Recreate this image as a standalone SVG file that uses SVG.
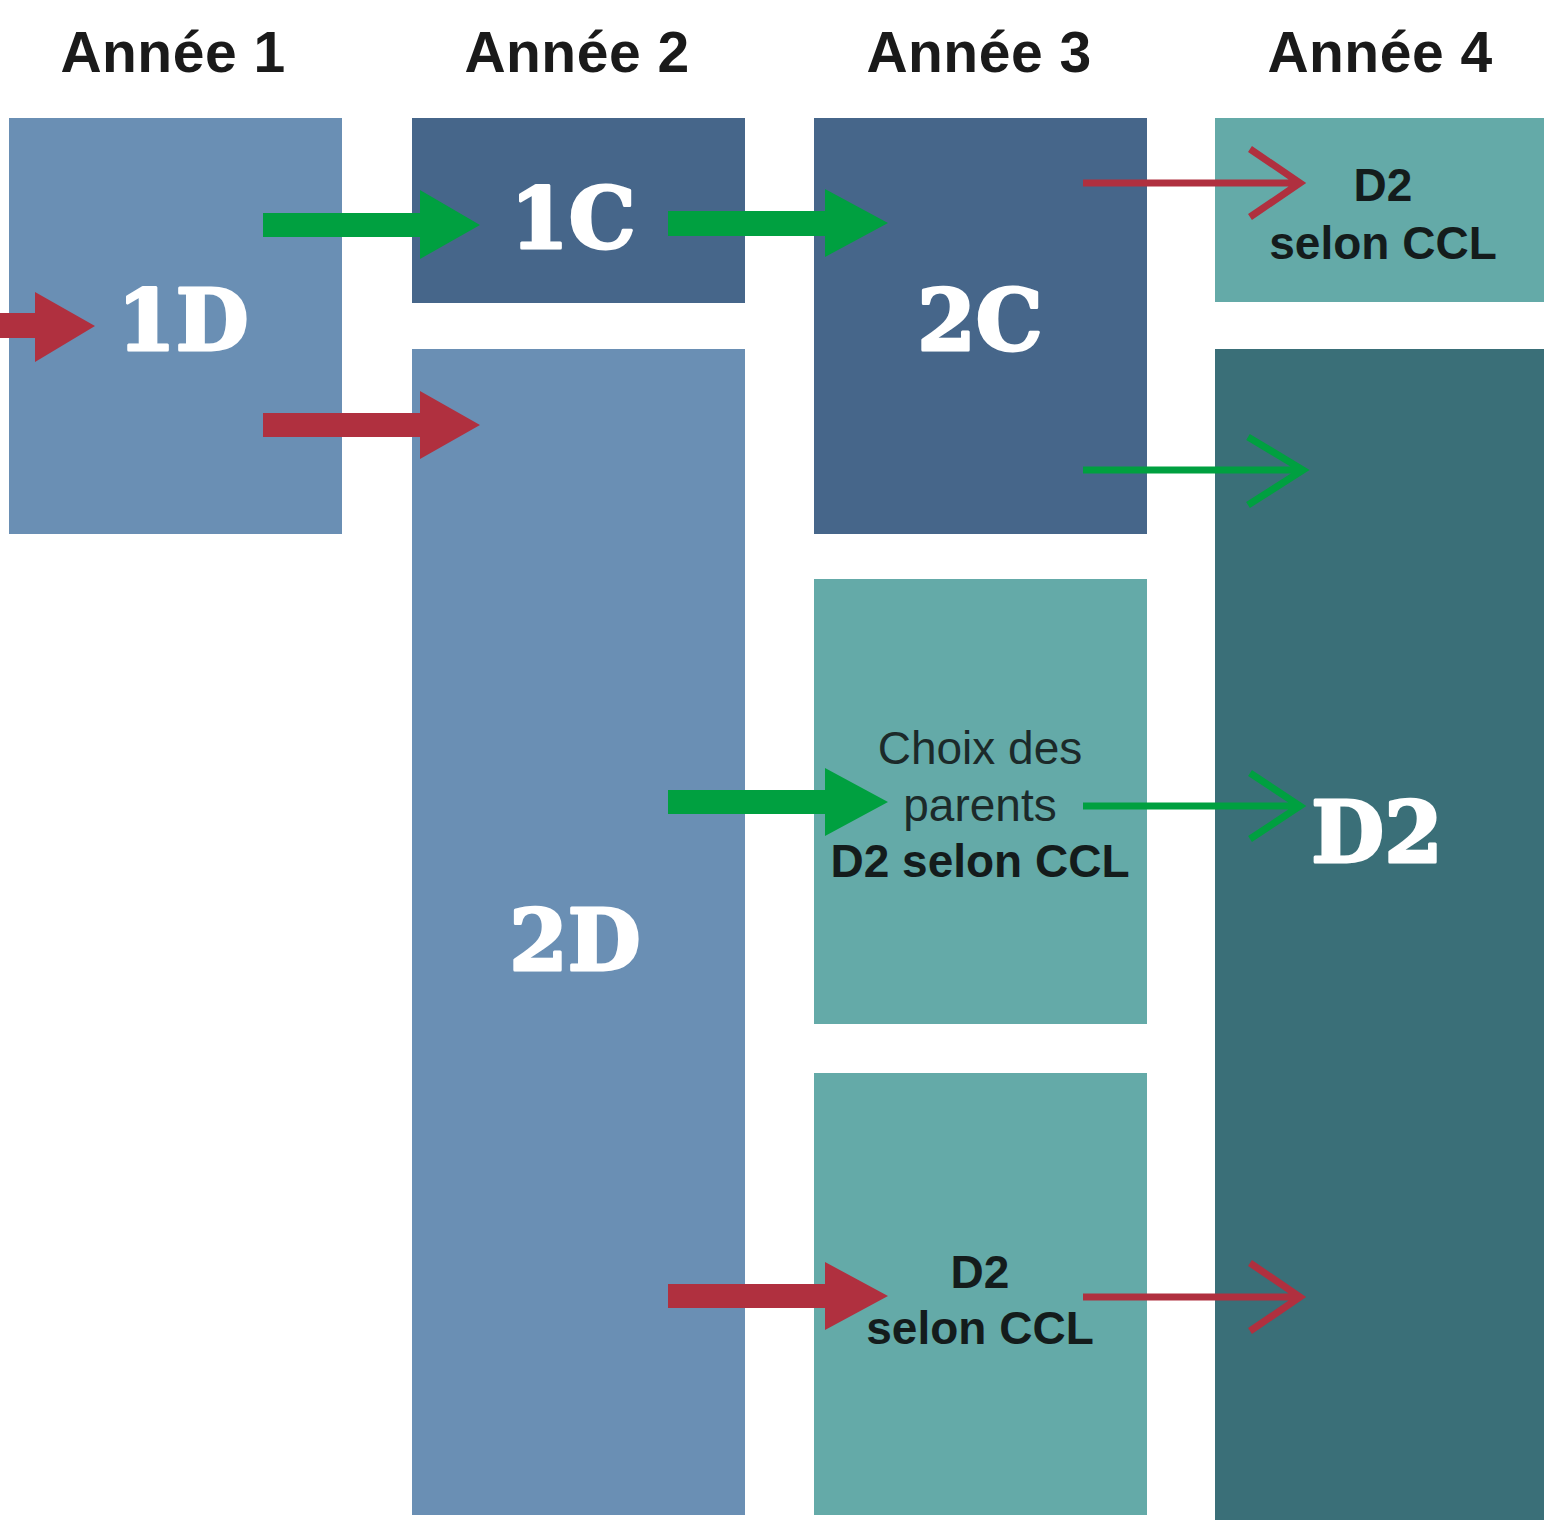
<svg xmlns="http://www.w3.org/2000/svg" width="1544" height="1520" viewBox="0 0 1544 1520">
<style>
.hdr{font-family:"Liberation Sans",Arial,sans-serif;font-weight:bold;font-size:57px;fill:#1a1a1a;text-anchor:middle;letter-spacing:0.5px}
.big{font-family:"DejaVu Serif","Liberation Serif",serif;font-weight:bold;font-size:84px;fill:#ffffff;stroke:#ffffff;stroke-width:3;stroke-linejoin:round;text-anchor:middle}
.lbl{font-family:"Liberation Sans",Arial,sans-serif;font-weight:bold;font-size:46px;fill:#141c1c;text-anchor:middle}
.lbln{font-family:"Liberation Sans",Arial,sans-serif;font-size:46px;fill:#1c2a2a;text-anchor:middle}
.light{fill:#6a8fb4}.dark{fill:#46668a}.teal{fill:#64aaa8}.deep{fill:#3a6f78}
.red{fill:#b0303f}.green{fill:#00a040}
.tr{fill:none;stroke:#b0303f;stroke-width:7}
.tg{fill:none;stroke:#00a040;stroke-width:7}
</style>
<rect width="1544" height="1520" fill="#ffffff"/>
<g id="headers">
<text class="hdr" x="173" y="72">Année 1</text>
<text class="hdr" x="577" y="72">Année 2</text>
<text class="hdr" x="979" y="72">Année 3</text>
<text class="hdr" x="1380" y="72">Année 4</text>
</g>
<g id="n1D"><rect class="light" x="9" y="118" width="333" height="416"/><text class="big" x="183" y="350">1D</text></g>
<g id="n1C"><rect class="dark" x="412" y="118" width="333" height="185"/><text class="big" x="573" y="248">1C</text></g>
<g id="n2D"><rect class="light" x="412" y="349" width="333" height="1166"/><text class="big" x="575" y="970">2D</text></g>
<g id="n2C"><rect class="dark" x="814" y="118" width="333" height="416"/><text class="big" x="980" y="350">2C</text></g>
<g id="nChoix"><rect class="teal" x="814" y="579" width="333" height="445"/>
<text class="lbln" x="980" y="764">Choix des</text>
<text class="lbln" x="980" y="821">parents</text>
<text class="lbl" x="980" y="877">D2 selon CCL</text></g>
<g id="nD2b"><rect class="teal" x="814" y="1073" width="333" height="442"/>
<text class="lbl" x="980" y="1288">D2</text>
<text class="lbl" x="980" y="1344">selon CCL</text></g>
<g id="nD2t"><rect class="teal" x="1215" y="118" width="329" height="184"/>
<text class="lbl" x="1383" y="201">D2</text>
<text class="lbl" x="1383" y="259">selon CCL</text></g>
<g id="nD2"><rect class="deep" x="1215" y="349" width="329" height="1171"/><text class="big" x="1377" y="862">D2</text></g>
<g id="connectors">
<polygon class="red" points="0,313 35,313 35,292 95,326 35,362 35,338 0,338"/>
<polygon class="green" points="263,213 420,213 420,190 480,225 420,259 420,237 263,237"/>
<polygon class="red" points="263,413 420,413 420,391 480,425 420,459 420,437 263,437"/>
<polygon class="green" points="668,211 825,211 825,189 888,223 825,257 825,236 668,236"/>
<polygon class="green" points="668,790 825,790 825,768 888,802 825,836 825,814 668,814"/>
<polygon class="red" points="668,1284 825,1284 825,1262 888,1296 825,1330 825,1308 668,1308"/>
<path class="tr" d="M1083,183H1298M1250,149L1300,183L1250,217"/>
<path class="tg" d="M1083,470H1300M1248,437L1303,470L1248,505"/>
<path class="tg" d="M1083,806H1298M1250,773L1300,806L1250,839"/>
<path class="tr" d="M1083,1297H1298M1250,1263L1300,1297L1250,1331"/>
</g>
</svg>
